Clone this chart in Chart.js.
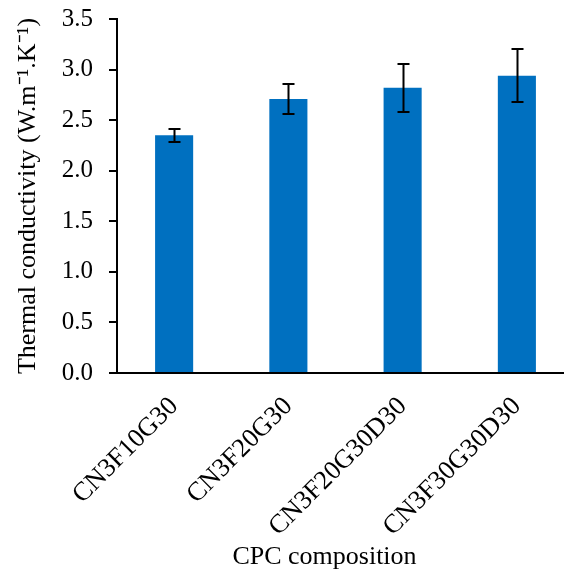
<!DOCTYPE html>
<html>
<head>
<meta charset="utf-8">
<script src="https://cdn.jsdelivr.net/npm/chart.js@4"></script>
<style>
html,body{margin:0;padding:0;background:#fff;overflow:hidden;}
#wrap{width:580px;height:576px;}
</style>
</head>
<body>
<div id="wrap"><canvas id="c" width="580" height="576"></canvas></div>
<script>
const categories = ['CN3F10G30', 'CN3F20G30', 'CN3F20G30D30', 'CN3F30G30D30'];
const values = [2.35, 2.71, 2.82, 2.94];
const errors = [0.066, 0.145, 0.24, 0.26];
const yTitle = 'Thermal conductivity (W.m\u207B\u00B9.K\u207B\u00B9)';
const xTitle = 'CPC composition';

const FONT = "'Liberation Serif', 'Times New Roman', serif";

const errorBars = {
  id: 'errorBars',
  afterDatasetsDraw(chart) {
    const ctx = chart.ctx;
    const meta = chart.getDatasetMeta(0);
    const y = chart.scales.y;
    ctx.save();
    ctx.strokeStyle = '#000';
    ctx.lineWidth = 2;
    meta.data.forEach((bar, i) => {
      const x = Math.round(bar.x) + 0.5;
      const t = Math.round(y.getPixelForValue(values[i] + errors[i]));
      const b = Math.round(y.getPixelForValue(values[i] - errors[i]));
      ctx.beginPath();
      ctx.moveTo(x, t); ctx.lineTo(x, b);
      ctx.moveTo(x - 6, t); ctx.lineTo(x + 6, t);
      ctx.moveTo(x - 6, b); ctx.lineTo(x + 6, b);
      ctx.stroke();
    });
    ctx.restore();
  }
};

const xTitlePlugin = {
  id: 'xTitlePlugin',
  afterDraw(chart) {
    const ctx = chart.ctx;
    const xs = chart.scales.x;
    ctx.save();
    ctx.font = '26px ' + FONT;
    ctx.fillStyle = '#000';
    ctx.textAlign = 'center';
    ctx.textBaseline = 'middle';
    ctx.fillText(xTitle, (xs.left + xs.right) / 2 - 21, 557);
    ctx.restore();
  }
};

new Chart(document.getElementById('c'), {
  type: 'bar',
  data: {
    labels: categories,
    datasets: [{
      data: values,
      backgroundColor: '#0070C0',
      borderWidth: 0,
      categoryPercentage: 1,
      barPercentage: 1/3
    }]
  },
  plugins: [errorBars, xTitlePlugin],
  options: {
    responsive: false,
    animation: false,
    devicePixelRatio: 1,
    layout: { padding: { left: 0, right: 6, top: 19, bottom: 0 } },
    plugins: { legend: { display: false }, tooltip: { enabled: false } },
    scales: {
      x: {
        grid: { display: false, drawTicks: false },
        border: { display: true, color: '#000', width: 2 },
        ticks: {
          color: '#000',
          font: { family: FONT, size: 26.5 },
          minRotation: 45, maxRotation: 45,
          padding: 18,
          autoSkip: false
        },
        afterFit(s) { s.height = 203; s.paddingLeft = 0; s.paddingRight = 0; }
      },
      y: {
        min: 0, max: 3.5,
        grid: { drawOnChartArea: false, drawTicks: true, tickLength: 8, color: '#000', lineWidth: 2 },
        border: { display: true, color: '#000', width: 2 },
        ticks: {
          stepSize: 0.5,
          color: '#000',
          padding: 16,
          font: { family: FONT, size: 25 },
          callback: v => Number(v).toFixed(1)
        },
        title: {
          display: true,
          text: yTitle,
          color: '#000',
          font: { family: FONT, size: 26 },
          padding: { top: 13, bottom: 0 }
        },
        afterFit(s) { s.width = 117; s.paddingTop = 0; s.paddingBottom = 0; }
      }
    }
  }
});
</script>
</body>
</html>
